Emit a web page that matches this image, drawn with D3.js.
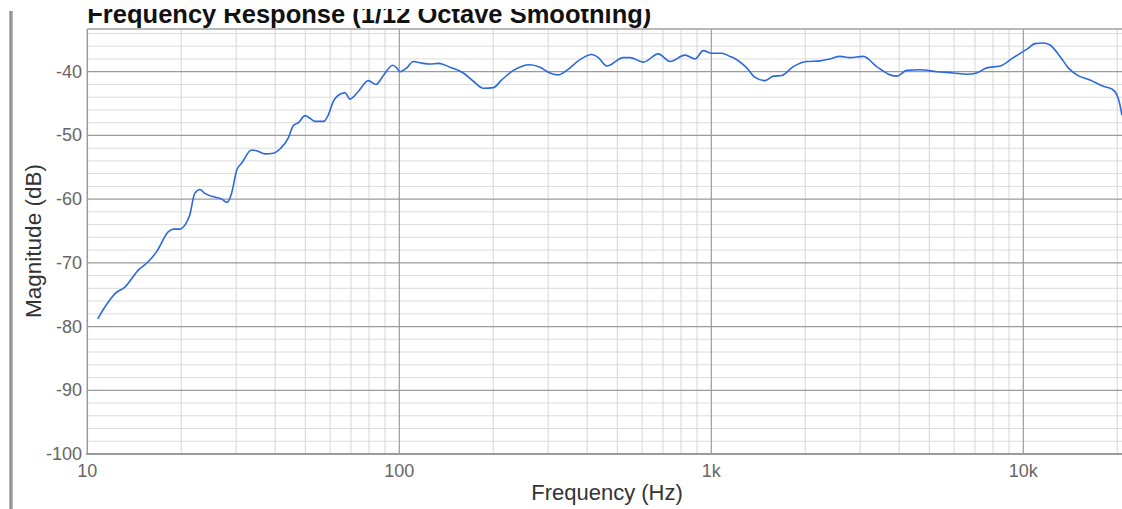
<!DOCTYPE html>
<html>
<head>
<meta charset="utf-8">
<script src="https://cdn.jsdelivr.net/npm/d3@7"></script>
<style>
  body { margin: 0; background: #fff; }
  svg { display: block; font-family: "Liberation Sans", Arial, Helvetica, sans-serif; }
</style>
</head>
<body>
<div id="myGraph"></div>
<script>
const freqs = [10.8, 11.4, 12.3, 13.2, 14.6, 15.7, 16.7, 18.2, 18.9, 19.8, 20.6, 21.3, 22.1, 23.0, 23.8,
  25.3, 27.0, 28.0, 29.0, 30.1, 31.3, 33.6, 34.9, 37.1, 39.5, 41.5, 44.1, 45.7, 47.5, 49.9,
  51.7, 53.7, 57.1, 59.2, 61.4, 63.0, 67.0, 69.5, 73.9, 79.5, 84.2, 88.9, 95.2, 98.1, 100.5,
  105.6, 110.9, 116.5, 125.5, 133.4, 145.4, 160.4, 172.7, 185.9, 200.1, 212.9, 232, 262.3, 282.5, 304.1,
  323.3, 343.9, 379.5, 413.8, 434.4, 462.1, 522.4, 548.9, 605.5, 676.2, 737.3, 823.8, 886.9, 942.8, 1003,
  1080, 1148, 1176, 1299, 1381, 1486, 1580, 1681, 1831, 2022, 2231, 2401, 2585, 2783, 3071,
  3389, 3740, 3929, 4230, 4667, 5278, 5967, 6586, 7089, 7630, 8420, 9289, 10250, 10900, 11590,
  12180, 13110, 13940, 14840, 16360, 18050, 19200, 19930, 20410, 20700];

const magnitudes = [-78.8, -76.9, -74.8, -73.8, -71.1, -69.8, -68.2, -65.1, -64.7, -64.7, -64.0, -62.5, -59.1, -58.5, -59.1,
  -59.6, -60.0, -60.5, -59.1, -55.5, -54.3, -52.3, -52.4, -52.9, -52.8, -52.1, -50.4, -48.5, -48.0, -46.9,
  -47.3, -47.8, -47.8, -46.8, -44.7, -43.9, -43.3, -44.3, -43.1, -41.4, -42.0, -40.6, -39.0, -39.4, -40.0,
  -39.4, -38.4, -38.6, -38.8, -38.7, -39.3, -40.2, -41.5, -42.6, -42.5, -41.3, -39.8, -38.9, -39.3, -40.2,
  -40.5, -39.8, -38.1, -37.3, -37.8, -39.1, -37.8, -37.8, -38.5, -37.2, -38.4, -37.4, -38.0, -36.7, -37.1,
  -37.1, -37.6, -37.8, -39.4, -40.9, -41.4, -40.7, -40.6, -39.2, -38.4, -38.3, -38.0, -37.6, -37.8, -37.6,
  -39.2, -40.5, -40.7, -39.8, -39.7, -40.0, -40.2, -40.4, -40.2, -39.4, -39.1, -37.8, -36.5, -35.6, -35.5,
  -35.8, -37.6, -39.4, -40.5, -41.3, -42.3, -42.7, -43.6, -45.2, -46.8];

// tick labels
const xTicks = [10, 100, 1000, 10000];
const xTickLabels = ['10', '100', '1k', '10k'];
const yTicks = [-100, -90, -80, -70, -60, -50, -40];

const title = 'Frequency Response (1/12 Octave Smoothing)';

const width = 1122;
const height = 509;
const plotLeft = 87.3;
const plotTop = 29;
const plotBottom = 454;
const decade = 312; // px per decade

const xScale = d3.scaleLog().domain([10, 21000]).range([plotLeft, plotLeft + decade * Math.log10(2100)]);
const yScale = d3.scaleLinear().domain([-100, -33.3]).range([plotBottom, plotTop]);

let svg = d3.select('#myGraph')
  .append('svg')
    .attr('width', width)
    .attr('height', height);

// window edge on the far left
svg.append('rect').attr('x', 9).attr('y', 11).attr('width', 4).attr('height', height).attr('fill', '#b4b4b4');
svg.append('rect').attr('x', 10).attr('y', 11).attr('width', 1.5).attr('height', height).attr('fill', '#8c8c8c');

// grid - minor lines first
let minorY = d3.range(-98, -33, 2).filter(d => d % 10 !== 0);
let minorX = [];
[10, 100, 1000, 10000].forEach(dec => {
  for (let m = 2; m <= 9; m++) {
    if (dec * m <= 21000) minorX.push(dec * m);
  }
});

let grid = svg.append('g');

grid.selectAll('.minorY').data(minorY).enter().append('line')
  .attr('x1', plotLeft).attr('x2', width)
  .attr('y1', d => yScale(d)).attr('y2', d => yScale(d))
  .attr('stroke', '#dcdcdc').attr('stroke-width', 1);

grid.selectAll('.minorX').data(minorX).enter().append('line')
  .attr('x1', d => xScale(d)).attr('x2', d => xScale(d))
  .attr('y1', plotTop).attr('y2', plotBottom)
  .attr('stroke', '#d6d6d6').attr('stroke-width', 1);

grid.selectAll('.majorY').data(yTicks.slice(1)).enter().append('line')
  .attr('x1', plotLeft).attr('x2', width)
  .attr('y1', d => yScale(d)).attr('y2', d => yScale(d))
  .attr('stroke', '#9a9a9a').attr('stroke-width', 1.2);

grid.selectAll('.majorX').data(xTicks.slice(1)).enter().append('line')
  .attr('x1', d => xScale(d)).attr('x2', d => xScale(d))
  .attr('y1', plotTop).attr('y2', plotBottom)
  .attr('stroke', '#9a9a9a').attr('stroke-width', 1.2);

// frame
svg.append('line').attr('x1', plotLeft).attr('x2', width).attr('y1', plotTop).attr('y2', plotTop)
  .attr('stroke', '#a0a0a0').attr('stroke-width', 1.5);
svg.append('line').attr('x1', plotLeft).attr('x2', plotLeft).attr('y1', plotTop).attr('y2', plotBottom + 1)
  .attr('stroke', '#9a9a9a').attr('stroke-width', 1.5);
svg.append('line').attr('x1', plotLeft - 1).attr('x2', width).attr('y1', plotBottom).attr('y2', plotBottom)
  .attr('stroke', '#9a9a9a').attr('stroke-width', 2);

// response curve
let data = freqs.map((f, i) => ({f: f, db: magnitudes[i]}));

let line = d3.line()
  .x(d => xScale(d.f))
  .y(d => yScale(d.db))
  .curve(d3.curveMonotoneX);

svg.append('path')
  .datum(data)
  .attr('d', line)
  .attr('fill', 'none')
  .attr('stroke', '#2c69dc')
  .attr('stroke-width', 1.6);

// tick labels
svg.selectAll('.ylab').data(yTicks).enter().append('text')
  .attr('x', 82)
  .attr('y', d => yScale(d) + 6)
  .attr('text-anchor', 'end')
  .attr('font-size', 18)
  .attr('fill', '#666')
  .text(d => d);

svg.selectAll('.xlab').data(xTicks).enter().append('text')
  .attr('x', d => xScale(d))
  .attr('y', 477)
  .attr('text-anchor', 'middle')
  .attr('font-size', 18)
  .attr('fill', '#666')
  .text((d, i) => xTickLabels[i]);

// axis titles
svg.append('text')
  .attr('x', 607)
  .attr('y', 500)
  .attr('text-anchor', 'middle')
  .attr('font-size', 22)
  .attr('fill', '#333')
  .text('Frequency (Hz)');

svg.append('text')
  .attr('transform', 'translate(41, 241) rotate(-90)')
  .attr('text-anchor', 'middle')
  .attr('font-size', 22.5)
  .attr('fill', '#333')
  .text('Magnitude (dB)');

// title, cut off by the top of the window
svg.append('text')
  .attr('x', plotLeft)
  .attr('y', 23)
  .attr('font-size', 25.5)
  .attr('font-weight', 'bold')
  .attr('fill', '#111')
  .text(title);

// the window above hides the top of the title
svg.append('rect').attr('x', 0).attr('y', 0).attr('width', width).attr('height', 9).attr('fill', '#fff');
</script>
</body>
</html>
